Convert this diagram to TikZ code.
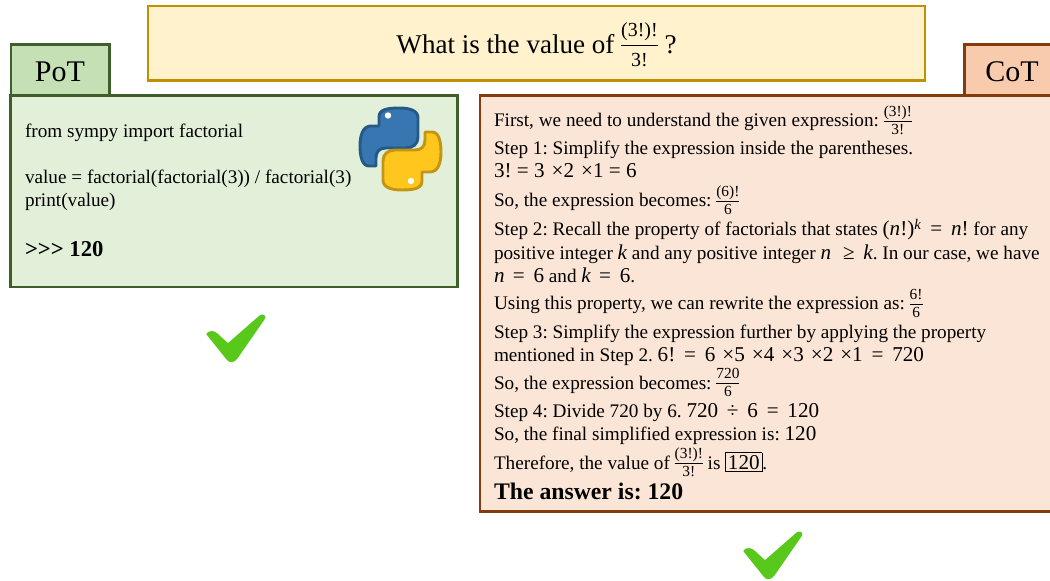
\documentclass[tikz,border=0pt]{standalone}
\usepackage{fontspec}
\setmainfont[Ligatures=NoCommon]{Liberation Serif}
\newfontfamily\cm[Scale=1.1]{Liberation Serif}
\definecolor{qfill}{HTML}{FFF2CC}\definecolor{qline}{HTML}{BF9000}
\definecolor{gtab}{HTML}{C5E0B4}\definecolor{gfill}{HTML}{E2F0D9}\definecolor{gline}{HTML}{3F5F2A}
\definecolor{otab}{HTML}{F8CBAD}\definecolor{ofill}{HTML}{FBE5D6}\definecolor{oline}{HTML}{843C0C}
\definecolor{pyb}{HTML}{3776B0}\definecolor{pybl}{HTML}{265A86}
\definecolor{pyy}{HTML}{FFC61E}\definecolor{pyyl}{HTML}{C29614}
\definecolor{chk}{HTML}{58C91A}
\tikzset{
 x=0.75pt,y=-0.75pt,
 boxq/.style={draw=qline,fill=qfill,line width=2pt,line join=miter},
 boxg/.style={draw=gline,fill=gfill,line width=2pt},
 tabg/.style={draw=gline,fill=gtab,line width=2pt},
 boxo/.style={draw=oline,fill=ofill,line width=2pt},
 tabo/.style={draw=oline,fill=otab,line width=2pt},
 txt/.style={anchor=base west,inner sep=0pt,outer sep=0pt,font=\fontsize{14.4}{17}\selectfont},
 tabtxt/.style={anchor=base,inner sep=0pt,font=\fontsize{22.5}{26}\selectfont},
 snakeb/.style={draw=pybl,fill=pyb,line width=2.2pt,line join=round},
 snakey/.style={draw=pyyl,fill=pyy,line width=2.2pt,line join=round},
 checkmark/.style={fill=chk,draw=chk,line width=1pt,line join=round},
}
\newcommand{\pysnake}{(379,126) -- (379,117) .. controls (379,110) and (386,108) .. (399,108)
  .. controls (411,108) and (418,111) .. (418,118) -- (418,137)
  .. controls (418,144) and (413,148) .. (406,148) -- (386,148)
  .. controls (379,148) and (376,152) .. (376,158) -- (376,166) -- (369,166)
  .. controls (362,166) and (360,156) .. (360,146) .. controls (360,135) and (363,126) .. (371,126) -- cycle}
\newcommand{\checkshape}[2]{(#1+207,#2+334) .. controls (#1+209,#2+331) and (#1+214,#2+331) .. (#1+217,#2+334)
  -- (#1+228,#2+344) -- (#1+260,#2+316) .. controls (#1+263,#2+314) and (#1+266,#2+316) .. (#1+264,#2+319)
  -- (#1+237,#2+358) .. controls (#1+234,#2+362) and (#1+230,#2+363) .. (#1+227,#2+359) -- cycle}
% size (before scale), depth of numerator row, height of denominator row, numerator, denominator
\newcommand{\fr}[5]{\mbox{$\vcenter{\fontsize{#1}{#1}\cm\offinterlineskip
  \halign{\hfil##\hfil\cr\vrule height .75em depth #2em width 0pt #4\cr
  \noalign{\hrule height .7pt}\vrule height #3em depth .3em width 0pt #5\cr}}$}}
\newcommand{\bfr}[2]{\fr{10.5}{.3}{.85}{#1}{#2}}
\newcommand{\mi}[1]{{\cm\itshape #1}}
\newcommand{\tm}{\kern1.3pt×}
\begin{document}
\frenchspacing
\begin{tikzpicture}
\useasboundingbox (0,0) rectangle (1050,581);
\clip (0,0) rectangle (1050,581);
\draw[boxq] (148,6) rectangle (925,80.3);
\node[anchor=base,inner sep=0pt,font=\fontsize{20.3}{23}\selectfont] (question) at (536.5,54) {What is the value of \fr{13.6}{.45}{1.05}{(3!)!}{3!} ?};
% PoT
\draw[tabg] (11,44.6) rectangle (109.6,95);
\draw[boxg] (10.8,95.3) rectangle (457.6,287);
\node[tabtxt] (pot) at (60,82) {PoT};
\node[txt] (p1) at (25,138) {from sympy import factorial};
\node[txt] (p2) at (25,184) {value = factorial(factorial(3)) / factorial(3)};
\node[txt] (p3) at (25,207) {print(value)};
\node[txt,font=\fontsize{17}{20}\selectfont\bfseries] (p4) at (25,257) {{>}{>}{>} 120};
\draw[snakeb] \pysnake;
\begin{scope}[rotate around={180:(400.5,149)}]
\draw[snakey] \pysnake;
\end{scope}
\fill[white] (388,115.5) circle[radius=3.2];
\fill[white] (411,181) circle[radius=3.2];
\draw[checkmark] \checkshape{0}{0};
% CoT
\draw[tabo] (964.5,44.6) rectangle (1060,95);
\draw[boxo] (480,95.3) rectangle (1060,511.5);
\node[tabtxt] (cot) at (1012,82) {CoT};
\node[txt] (c1) at (494,127) {First, we need to understand the given expression: \bfr{(3!)!}{3!}};
\node[txt] (c2) at (494,155) {Step 1: Simplify the expression inside the parentheses.};
\node[txt] (c3) at (494,178) {{\cm 3! = 3 \tm2 \tm1 = 6}};
\node[txt] (c4) at (494,207) {So, the expression becomes: \bfr{(6)!}{6}};
\node[txt] (c5) at (494,236) {Step 2: Recall the property of factorials that states {\cm(\mi{n}!)\textsuperscript{\mi{k}}\, = \,\mi{n}!} for any};
\node[txt] (c6) at (494,259) {positive integer \mi{k} and any positive integer \mi{n} {\cm\,\,≥ \,\mi{k}}. In our case, we have};
\node[txt] (c7) at (494,282) {\mi{n} {\cm\,=\, 6} and \mi{k} {\cm\,=\, 6}.};
\node[txt] (c8) at (494,310) {Using this property, we can rewrite the expression as: \bfr{6!}{6}};
\node[txt] (c9) at (494,338) {Step 3: Simplify the expression further by applying the property};
\node[txt] (c10) at (494,361) {mentioned in Step 2. {\cm 6! \,=\, 6 \tm5 \tm4 \tm3 \tm2 \tm1 \,=\, 720}};
\node[txt] (c11) at (494,389) {So, the expression becomes: \bfr{720}{6}};
\node[txt] (c12) at (494,417) {Step 4: Divide 720 by 6. {\cm 720 \,÷ \,6 \,=\, 120}};
\node[txt] (c13) at (494,440) {So, the final simplified expression is: {\cm 120}};
\node[txt] (c14) at (494,469) {Therefore, the value of \bfr{(3!)!}{3!} is \setlength{\fboxsep}{1.5pt}\setlength{\fboxrule}{0.5pt}\fbox{\cm 120}.};
\node[txt,font=\fontsize{17.8}{21}\selectfont\bfseries] (c15) at (494,499) {The answer is: 120};
\draw[checkmark] \checkshape{537}{217};
\end{tikzpicture}
\end{document}
